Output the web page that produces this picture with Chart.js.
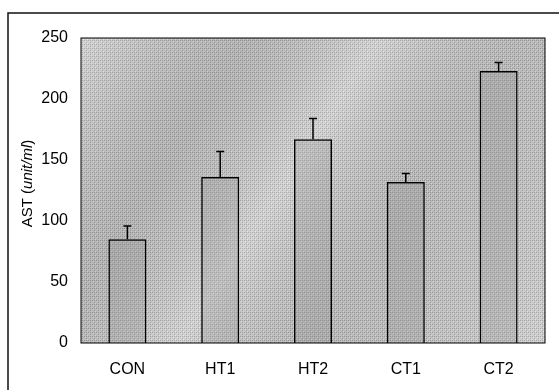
<!DOCTYPE html>
<html>
<head>
<meta charset="utf-8">
<script src="https://cdn.jsdelivr.net/npm/chart.js@4/dist/chart.umd.min.js"></script>
<style>
  html, body { margin: 0; padding: 0; background: #fff; }
  #wrap { width: 559px; height: 390px; position: relative; }
</style>
</head>
<body>
<div id="wrap"><canvas id="chart"></canvas></div>
<script>
// data
const groups = ['CON', 'HT1', 'HT2', 'CT1', 'CT2'];
const astMean = [85, 136, 167, 132, 223];
const astErr = [11, 21, 17, 7, 7];
const yTicks = [0, 50, 100, 150, 200, 250];

// grey dithered texture for the plot area, like the scanned original
function makeTexture(ctx) {
    const c = document.createElement('canvas');
    c.width = 4; c.height = 4;
    const g = c.getContext('2d');
    g.fillStyle = '#c8c8c8';
    g.fillRect(0, 0, 4, 4);
    g.fillStyle = '#a0a0a0';
    g.fillRect(0, 0, 1, 1);
    g.fillRect(2, 2, 1, 1);
    g.fillRect(2, 0, 1, 1);
    g.fillStyle = '#e4e4e4';
    g.fillRect(1, 1, 1, 1);
    g.fillRect(3, 3, 1, 1);
    return ctx.createPattern(c, 'repeat');
}

const plotBackground = {
    id: 'plotBackground',
    beforeDraw(chart) {
        const { ctx, chartArea: a } = chart;
        ctx.save();
        // outer frame of the figure
        ctx.strokeStyle = '#111';
        ctx.lineWidth = 1.5;
        ctx.beginPath();
        ctx.moveTo(8, 392);
        ctx.lineTo(8, 13);
        ctx.lineTo(560, 13);
        ctx.stroke();
        // plot area fill
        ctx.fillStyle = makeTexture(ctx);
        ctx.fillRect(a.left, a.top, a.right - a.left, a.bottom - a.top);
        // soft diagonal bands
        const grad = ctx.createLinearGradient(a.left, a.top, a.right, a.bottom);
        grad.addColorStop(0, 'rgba(255,255,255,0.18)');
        grad.addColorStop(0.25, 'rgba(0,0,0,0.10)');
        grad.addColorStop(0.45, 'rgba(255,255,255,0.15)');
        grad.addColorStop(0.65, 'rgba(0,0,0,0.08)');
        grad.addColorStop(1, 'rgba(255,255,255,0.12)');
        ctx.fillStyle = grad;
        ctx.fillRect(a.left, a.top, a.right - a.left, a.bottom - a.top);
        ctx.restore();
    },
    afterDatasetsDraw(chart) {
        const { ctx, chartArea: a } = chart;
        const x = chart.scales.x, y = chart.scales.y;
        ctx.save();
        ctx.strokeStyle = '#000';
        ctx.lineWidth = 1.5;
        // error bars, upper half only
        astMean.forEach((v, i) => {
            const px = x.getPixelForValue(i);
            const top = y.getPixelForValue(v + astErr[i]);
            const base = y.getPixelForValue(v);
            ctx.beginPath();
            ctx.moveTo(px, base);
            ctx.lineTo(px, top);
            ctx.moveTo(px - 4, top);
            ctx.lineTo(px + 4, top);
            ctx.stroke();
        });
        // plot area border
        ctx.lineWidth = 1;
        ctx.strokeRect(a.left, a.top, a.right - a.left, a.bottom - a.top);
        // y axis title with italic unit
        ctx.translate(28, (a.top + a.bottom) / 2 - 7);
        ctx.rotate(-Math.PI / 2);
        ctx.fillStyle = '#000';
        ctx.textBaseline = 'middle';
        const parts = [
            ['AST (', '15px "Liberation Sans", Arial, sans-serif'],
            ['unit/ml', 'italic 15px "Liberation Sans", Arial, sans-serif'],
            [')', '15px "Liberation Sans", Arial, sans-serif']
        ];
        let total = 0;
        parts.forEach(p => { ctx.font = p[1]; total += ctx.measureText(p[0]).width; });
        let cx = -total / 2;
        parts.forEach(p => {
            ctx.font = p[1];
            ctx.textAlign = 'left';
            ctx.fillText(p[0], cx, 0);
            cx += ctx.measureText(p[0]).width;
        });
        ctx.restore();
    }
};

const ctx = document.getElementById('chart').getContext('2d');
new Chart(ctx, {
    type: 'bar',
    data: {
        labels: groups,
        datasets: [{
            label: 'AST',
            data: astMean,
            backgroundColor: 'rgba(140,140,140,0.25)',
            borderColor: '#000',
            borderWidth: 1.5,
            barPercentage: 0.41,
            categoryPercentage: 1.0
        }]
    },
    options: {
        responsive: true,
        maintainAspectRatio: false,
        animation: false,
        layout: { padding: { top: 38, right: 14, left: 0, bottom: 0 } },
        plugins: {
            legend: { display: false },
            tooltip: { enabled: false }
        },
        scales: {
            x: {
                grid: { display: false, drawTicks: false },
                border: { display: false },
                ticks: {
                    color: '#000',
                    padding: 17,
                    font: { family: '"Liberation Sans", Arial, sans-serif', size: 16 }
                },
                afterFit(scale) { scale.height = 47; }
            },
            y: {
                min: 0,
                max: 250,
                grid: { display: false, drawTicks: false },
                border: { display: false },
                afterBuildTicks(scale) { scale.ticks = yTicks.map(v => ({ value: v })); },
                ticks: {
                    color: '#000',
                    padding: 13,
                    font: { family: '"Liberation Sans", Arial, sans-serif', size: 16 }
                },
                afterFit(scale) { scale.width = 81; }
            }
        }
    },
    plugins: [plotBackground]
});
</script>
</body>
</html>
